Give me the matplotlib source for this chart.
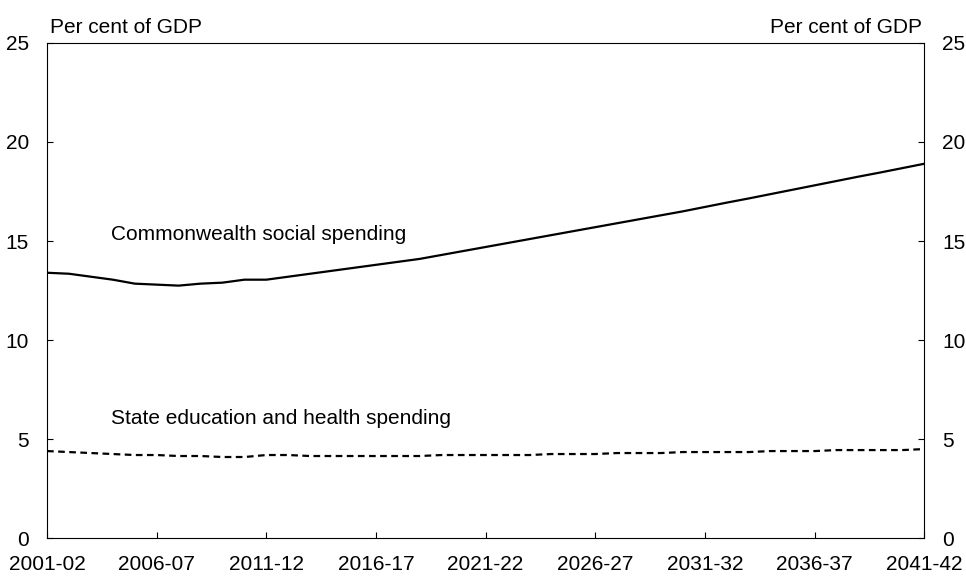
import matplotlib
matplotlib.use('Agg')
import matplotlib.pyplot as plt

plt.rcParams['font.family'] = ['Liberation Sans', 'DejaVu Sans']

years = list(range(2001, 2042))
commonwealth = [13.4, 13.35, 13.2, 13.05, 12.85, 12.8, 12.75, 12.85, 12.9, 13.05,
                13.05, 13.2, 13.35, 13.5, 13.65, 13.8, 13.95, 14.1, 14.3, 14.5,
                14.7, 14.9, 15.1, 15.3, 15.5, 15.7, 15.9, 16.1, 16.3, 16.5,
                16.72, 16.94, 17.15, 17.37, 17.59, 17.81, 18.03, 18.25, 18.46, 18.68, 18.9]
state = [4.4, 4.35, 4.3, 4.25, 4.2, 4.2, 4.15, 4.15, 4.1, 4.1,
         4.2, 4.2, 4.15, 4.15, 4.15, 4.15, 4.15, 4.15, 4.2, 4.2,
         4.2, 4.2, 4.2, 4.25, 4.25, 4.25, 4.3, 4.3, 4.3, 4.35,
         4.35, 4.35, 4.35, 4.4, 4.4, 4.4, 4.45, 4.45, 4.45, 4.45, 4.5]
tick_years = list(range(2001, 2042, 5))
tick_labels = ['2001-02', '2006-07', '2011-12', '2016-17', '2021-22',
               '2026-27', '2031-32', '2036-37', '2041-42']

fig = plt.figure(figsize=(9.66, 5.8), dpi=100)
ax = fig.add_axes([0.0487, 0.072, 0.908, 0.854])
ax.plot(years, commonwealth, color='black', lw=1.6)
ax.plot(years, state, color='black', lw=1.6, ls=(0, (3, 2)))
ax.set_xlim(2001, 2041)
ax.set_ylim(0, 25)
ax.set_xticks(tick_years)
ax.set_xticklabels(tick_labels)
ax.set_yticks(range(0, 26, 5))
ax.tick_params(axis='both', direction='in', labelsize=15, length=4)
ax.tick_params(axis='y', right=True, labelright=True, pad=13)
ax.tick_params(axis='x', pad=12)

ax.text(0.003, 1.012, 'Per cent of GDP', transform=ax.transAxes, fontsize=15, ha='left', va='bottom')
ax.text(0.997, 1.012, 'Per cent of GDP', transform=ax.transAxes, fontsize=15, ha='right', va='bottom')
ax.text(2003.9, 14.85, 'Commonwealth social spending', fontsize=15, ha='left', va='bottom')
ax.text(2003.9, 5.55, 'State education and health spending', fontsize=15, ha='left', va='bottom')

fig.savefig('out.png', dpi=100)
